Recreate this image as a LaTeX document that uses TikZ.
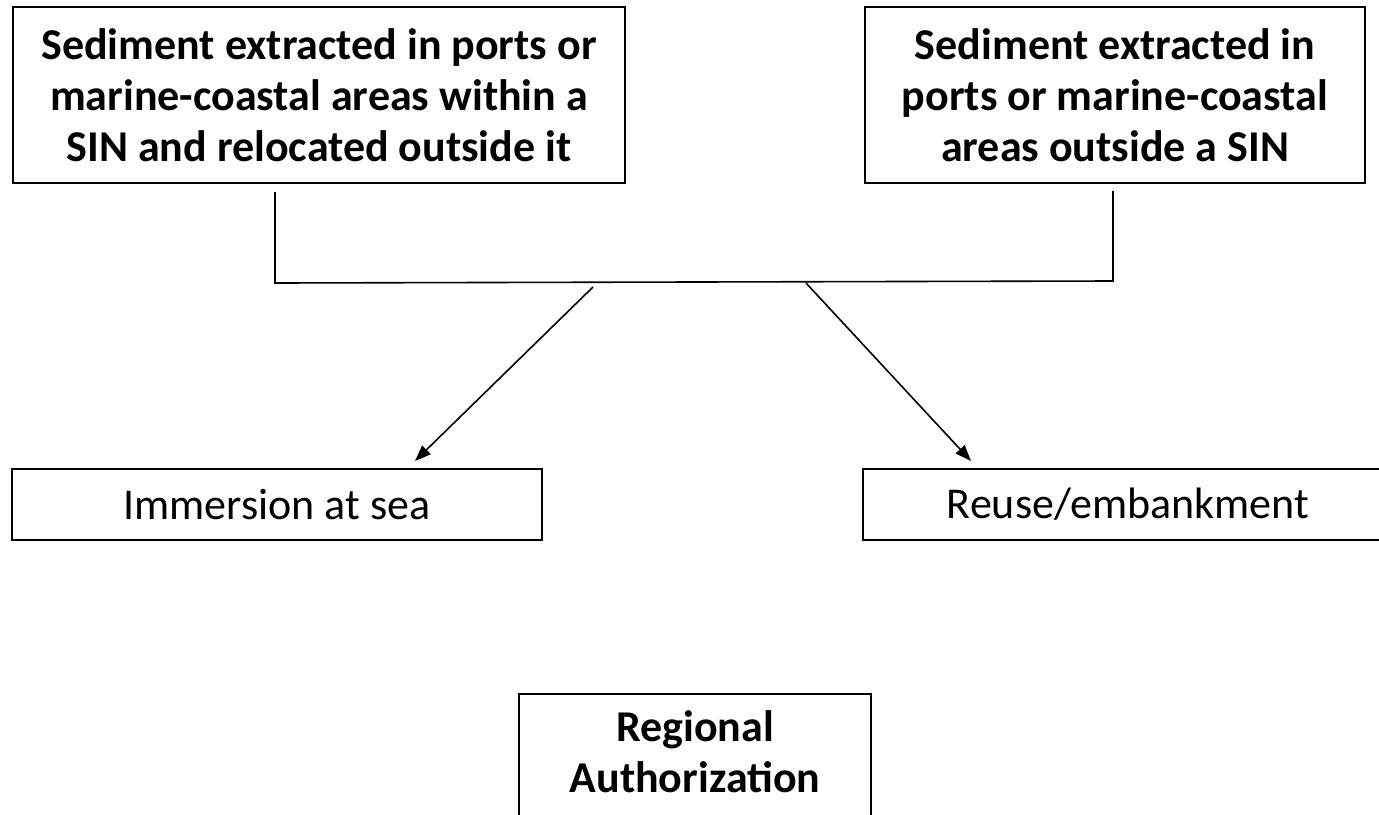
\documentclass[tikz,border=0pt]{standalone}
\usepackage{fontspec}
\setmainfont{Carlito}
\usetikzlibrary{arrows.meta}

\begin{document}
\begin{tikzpicture}[x=0.5pt,y=0.5pt,yscale=-1,
  box/.style={draw, line width=1pt, inner sep=0pt, align=center, font=\fontsize{22}{25.5}\selectfont},
  hd/.style={box, font=\fontsize{22}{25.5}\selectfont\bfseries},
  conn/.style={line width=0.8pt},
  arr/.style={conn, -{Triangle[length=8pt,width=6pt]}}]
\useasboundingbox (0,0) rectangle (1379,814);

%Shape: Rectangle
\node[hd, minimum width=306pt, minimum height=88pt] (inSIN) at (319,95) {Sediment extracted in ports or\\marine-coastal areas within a\\SIN and relocated outside it};
%Shape: Rectangle
\node[hd, minimum width=250pt, minimum height=88pt] (outSIN) at (1115,95) {Sediment extracted in\\ports or marine-coastal\\areas outside a SIN};

%Shape: Rectangle
\node[box, minimum width=265pt, minimum height=35.5pt] (sea) at (277,504.5) {Immersion at sea};
%Shape: Rectangle
\node[box, minimum width=265pt, minimum height=35.5pt] (reuse) at (1128,504.5) {Reuse/embankment};

%Shape: Rectangle
\node[box, minimum width=176pt, minimum height=70pt, anchor=north] (auth) at (695,693) {};
% Text Node
\node[font=\fontsize{22}{25.5}\selectfont\bfseries, align=center, inner sep=0pt] (authTxt) at (695,752) {Regional\\Authorization};

%Straight Lines
\coordinate (dL) at (275,192);
\coordinate (jL) at (275,283);
\coordinate (jR) at (1113,281);
\coordinate (dR) at (1113,191);
\draw[conn] (dL) -- (jL) -- (jR) -- (dR);

%Straight Lines
\coordinate (sL) at (593,287);
\coordinate (tL) at (415,461);
\draw[arr] (sL) -- (tL);
%Straight Lines
\coordinate (sR) at (806,283);
\coordinate (tR) at (971,461);
\draw[arr] (sR) -- (tR);

\end{tikzpicture}
\end{document}
